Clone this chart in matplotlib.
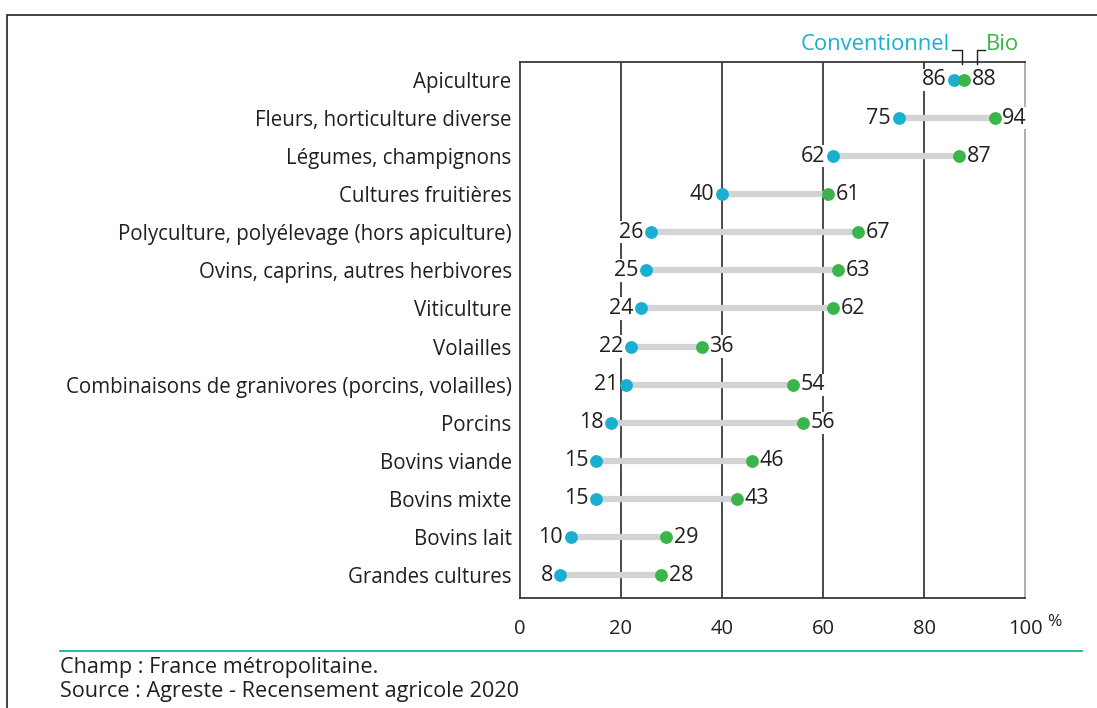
import matplotlib
matplotlib.use("Agg")
import matplotlib.pyplot as plt
from matplotlib.patches import Rectangle
from matplotlib.lines import Line2D

categories = ["Apiculture", "Fleurs, horticulture diverse", "Légumes, champignons",
              "Cultures fruitières", "Polyculture, polyélevage (hors apiculture)",
              "Ovins, caprins, autres herbivores", "Viticulture", "Volailles",
              "Combinaisons de granivores (porcins, volailles)", "Porcins",
              "Bovins viande", "Bovins mixte", "Bovins lait", "Grandes cultures"]
conventionnel = [86, 75, 62, 40, 26, 25, 24, 22, 21, 18, 15, 15, 10, 8]
bio = [88, 94, 87, 61, 67, 63, 62, 36, 54, 56, 46, 43, 29, 28]
xticks = [0, 20, 40, 60, 80, 100]
xticklabels = ["0", "20", "40", "60", "80", "100"]

BLUE = "#1AAFD0"
GREEN = "#39B54A"
GRAY = "#D2D3D5"
TXT = "#231F20"
FONT = "Open Sans"

plt.rcParams['font.family'] = [FONT, 'DejaVu Sans']

fig = plt.figure(figsize=(10.97, 7.08), dpi=100)
W, H = 1097, 708
ax = fig.add_axes([520 / W, 1 - 598 / H, (1025 - 520) / W, (598 - 62) / H])

n = len(categories)
ys = list(range(n))
for y, c, b in zip(ys, conventionnel, bio):
    ax.plot([c, b], [y, y], color=GRAY, lw=4.5, solid_capstyle='butt', zorder=2)
ax.scatter(conventionnel, ys, s=85, color=BLUE, zorder=4, linewidths=0)
ax.scatter(bio, ys, s=85, color=GREEN, zorder=4, linewidths=0)

bb = dict(facecolor='white', edgecolor='none', pad=0.5)
for y, c, b in zip(ys, conventionnel, bio):
    ax.annotate(str(c), (c, y), xytext=(-5.5, 0), textcoords='offset points',
                ha='right', va='center', fontsize=15.5, color=TXT, zorder=3, bbox=bb)
    ax.annotate(str(b), (b, y), xytext=(5.5, 0), textcoords='offset points',
                ha='left', va='center', fontsize=15.5, color=TXT, zorder=3, bbox=bb)

ax.set_xlim(0, 100)
ax.set_ylim(n - 1 + 0.6, -0.47)
for g in [20, 40, 60, 80]:
    ax.axvline(g, color="#3A3A3A", lw=1.3, zorder=1)

ax.set_yticks(ys)
ax.set_yticklabels(categories, fontsize=14.8, color=TXT)
ax.set_xticks(xticks)
ax.set_xticklabels(xticklabels, fontsize=14.5, color=TXT)
ax.tick_params(axis='both', length=0)
ax.tick_params(axis='x', pad=15)
ax.tick_params(axis='y', pad=6)
for s in ['left', 'top', 'bottom']:
    ax.spines[s].set_color("#3A3A3A")
    ax.spines[s].set_linewidth(1.3)
ax.spines['right'].set_color("#A8A8A8")
ax.spines['right'].set_linewidth(1.3)

# percent sign
fig.text(1047 / W, 1 - 622 / H, "%", fontsize=12.5, color=TXT, ha='left', va='center')

# legend labels with brackets
fig.text(950 / W, 1 - 44 / H, "Conventionnel", fontsize=15.8, color=BLUE, ha='right', va='center')
fig.text(986 / W, 1 - 44 / H, "Bio", fontsize=15.8, color=GREEN, ha='left', va='center')
fig.add_artist(Line2D([952 / W, 962 / W, 962 / W], [1 - 50 / H, 1 - 50 / H, 1 - 64 / H],
                      color=TXT, lw=1.0))
fig.add_artist(Line2D([985 / W, 977 / W, 977 / W], [1 - 50 / H, 1 - 50 / H, 1 - 64 / H],
                      color=TXT, lw=1.0))

# outer frame
fig.add_artist(Rectangle((7 / W, -0.2), 1.5, 1 - 15 / H + 0.2, fill=False,
                         edgecolor="#222222", lw=1.2, transform=fig.transFigure))

# separator line
fig.add_artist(Line2D([60 / W, 1082 / W], [1 - 651 / H, 1 - 651 / H], color="#17B59A", lw=1.3))

fig.text(60 / W, 1 - 667 / H, "Champ : France métropolitaine.", fontsize=15.6, color=TXT,
         ha='left', va='center')
fig.text(60 / W, 1 - 691 / H, "Source : Agreste - Recensement agricole 2020", fontsize=15.6,
         color=TXT, ha='left', va='center')

fig.savefig("out.png", dpi=100)
